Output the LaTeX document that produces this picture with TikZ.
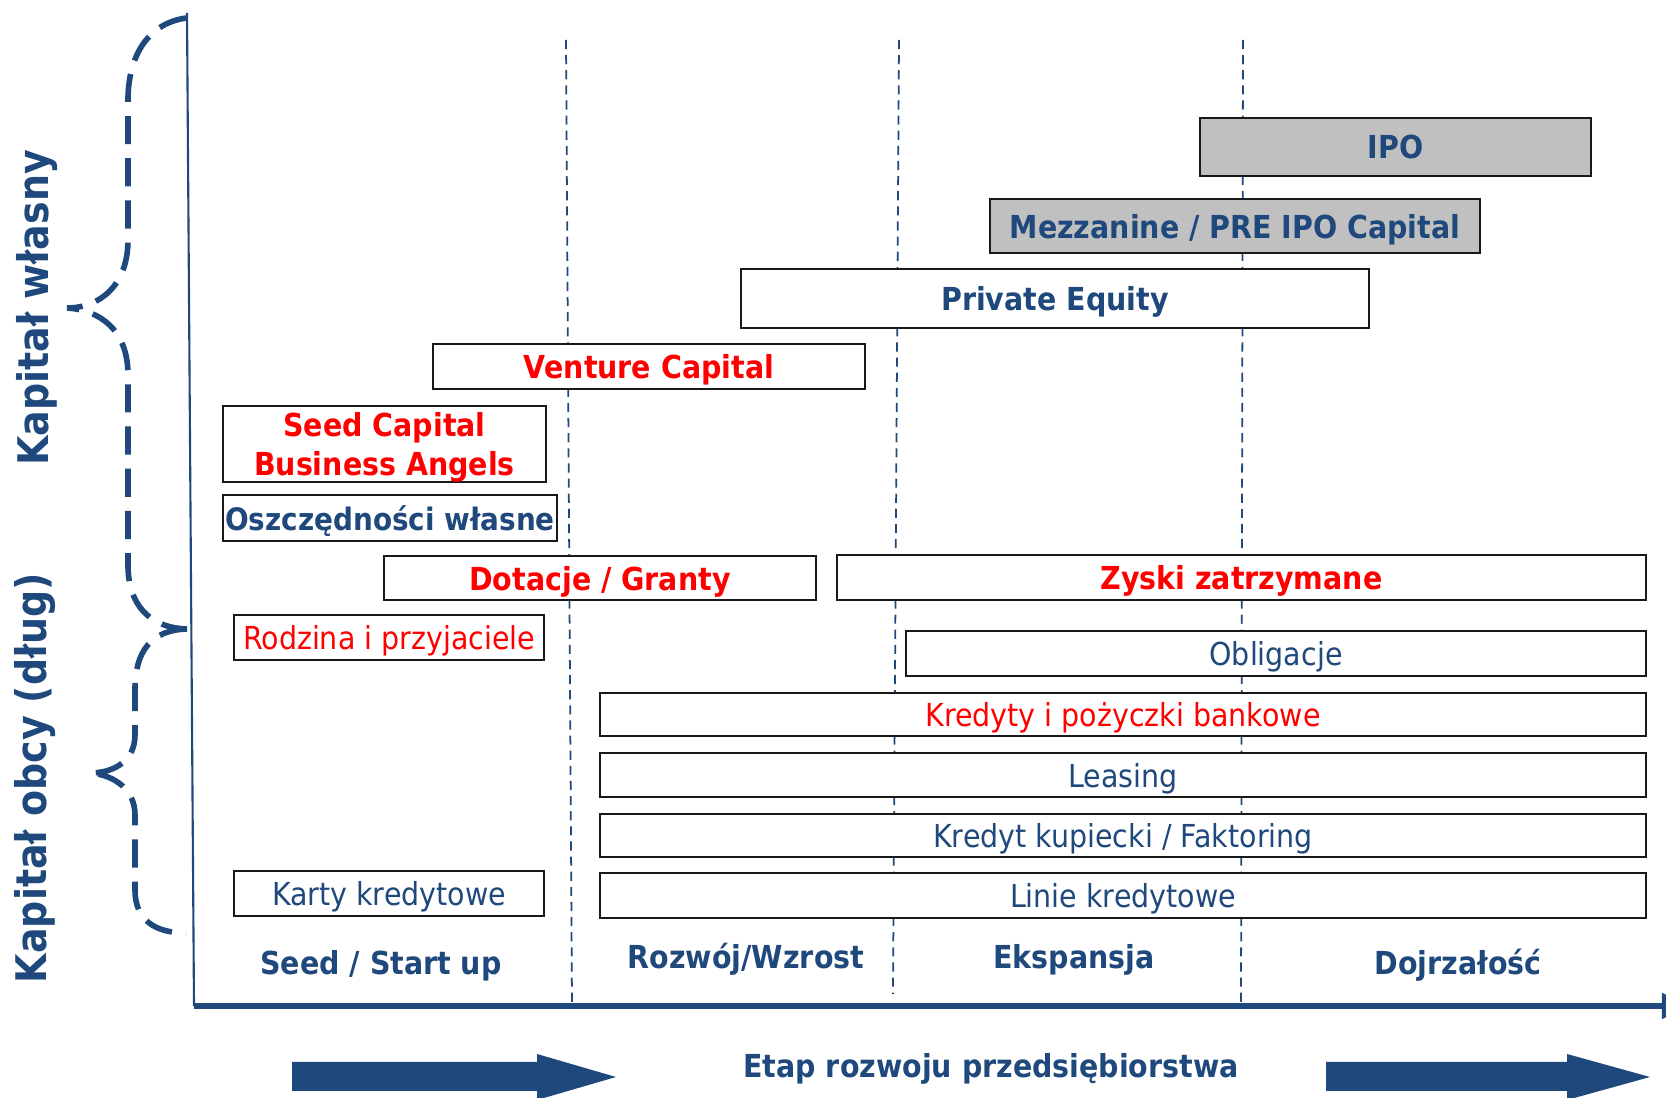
\documentclass[tikz,border=0pt]{standalone}
\usepackage{fontspec}
\setmainfont{DejaVu Sans}[FakeStretch=0.9]
\usetikzlibrary{arrows.meta}
\definecolor{kblue}{RGB}{31,73,125}
\definecolor{kred}{RGB}{255,0,0}
\definecolor{kgray}{RGB}{192,192,192}
\newcommand{\boxfont}{\fontsize{9}{11}\selectfont}
\tikzset{
	kbox/.style={draw=black!90, line width=0.6pt, fill=white, inner sep=0pt, text depth=0pt, align=center, font=\boxfont},
	greybox/.style={kbox, fill=kgray},
	heavy/.style={font=\boxfont\bfseries},
	txtblue/.style={text=kblue},
	txtred/.style={text=kred},
	size/.style 2 args={minimum width=#1cm, minimum height=#2cm},
	stage/.style={text=kblue, font=\boxfont\bfseries, anchor=base},
	side/.style={text=kblue, font=\fontsize{12}{14}\selectfont\bfseries, rotate=90},
	stageline/.style={draw=kblue, line width=0.5pt, dash pattern=on 2.6pt off 1.7pt},
	capbrace/.style={draw=kblue, line width=1.6pt, dash pattern=on 8pt off 4pt},
	bigarrow/.style={fill=kblue}
}

\begin{document}
\begin{tikzpicture}[x=0.01cm, y=-0.01cm]
        \path[use as bounding box, clip] (0,0) rectangle (1666,1098);
        \coordinate (origin) at (194,1006);
        \coordinate (y_top) at (187,13);
        \coordinate (x_end) at (1690,1006);
        \draw[stageline] (566,40) -- (572,1004);
        \draw[stageline] (899,40) -- (893,994);
        \draw[stageline] (1243,40) -- (1241,1004);
        \draw[kblue, line width=0.6pt] (y_top) -- (origin);
        \draw[kblue, line width=1.7pt, -{Triangle[length=8pt,width=7pt]}] (origin) -- (x_end);
        \draw[capbrace] (186,18) .. controls (145,24) and (128,60) .. (128,100) -- (128,240)
            .. controls (128,285) and (100,308) .. (67,308)
            .. controls (100,310) and (128,330) .. (128,375) -- (128,565)
            .. controls (128,605) and (150,628) .. (187,629);
        \draw[capbrace] (187,629) .. controls (152,630) and (135,650) .. (135,690) -- (135,735)
            .. controls (135,760) and (115,773) .. (90,773)
            .. controls (115,775) and (135,790) .. (135,815) -- (135,890)
            .. controls (135,920) and (155,933) .. (186,933);
        \node[side] (lab_wlasny) at (37,308) {Kapitał własny};
        \node[side] (lab_obcy) at (35,778) {Kapitał obcy (dług)};
        \node[greybox, heavy, txtblue, size={3.91}{0.58}] (box_IPO) at (1395.5,147) {IPO};
        \node[greybox, heavy, txtblue, size={4.90}{0.54}] (box_Mezz) at (1235,226) {Mezzanine / PRE IPO Capital};
        \node[kbox, heavy, txtblue, size={6.28}{0.59}] (box_PE) at (1055,298.5) {Private Equity};
        \node[kbox, heavy, txtred, size={4.32}{0.45}] (box_VC) at (649,366.5) {Venture Capital};
        \node[kbox, heavy, txtred, size={3.23}{0.76}] (box_Seed) at (384.5,444) {Seed Capital\\Business Angels};
        \node[kbox, txtblue, font=\fontsize{8.8}{11}\selectfont\bfseries, size={3.34}{0.46}] (box_Osz) at (390,518) {Oszczędności własne};
        \node[kbox, heavy, txtred, size={4.32}{0.44}] (box_Dot) at (600,578) {Dotacje / Granty};
        \node[kbox, heavy, txtred, size={8.09}{0.45}] (box_Zys) at (1241.5,577.5) {Zyski zatrzymane};
        \node[kbox, txtred, size={3.10}{0.45}] (box_Rodz) at (389,637.5) {Rodzina i przyjaciele};
        \node[kbox, txtblue, size={7.40}{0.45}] (box_Obl) at (1276,653.5) {Obligacje};
        \node[kbox, txtred, size={10.46}{0.43}] (box_Kred) at (1123,714.5) {Kredyty i pożyczki bankowe};
        \node[kbox, txtblue, size={10.46}{0.44}] (box_Leas) at (1123,775) {Leasing};
        \node[kbox, txtblue, size={10.46}{0.43}] (box_Kup) at (1123,835.5) {Kredyt kupiecki / Faktoring};
        \node[kbox, txtblue, size={10.46}{0.45}] (box_Lin) at (1123,895.5) {Linie kredytowe};
        \node[kbox, txtblue, size={3.10}{0.45}] (box_Kart) at (389,893.5) {Karty kredytowe};
        \node[stage] (st_Seed) at (381,975) {Seed / Start up};
        \node[stage] (st_Rozw) at (746,969) {Rozwój/Wzrost};
        \node[stage] (st_Eksp) at (1074,969) {Ekspansja};
        \node[stage] (st_Dojr) at (1458,975) {Dojrzałość};
        \fill[bigarrow] (292,1062) -- (537,1062) -- (537,1054) -- (616,1077) -- (537,1100) -- (537,1091) -- (292,1091) -- cycle;
        \fill[bigarrow] (1326,1062) -- (1567,1062) -- (1567,1054) -- (1650,1077) -- (1567,1100) -- (1567,1091) -- (1326,1091) -- cycle;
        \node[text=kblue, font=\boxfont\bfseries] (lab_etap) at (991,1069) {Etap rozwoju przedsiębiorstwa};
    \end{tikzpicture}
\end{document}
